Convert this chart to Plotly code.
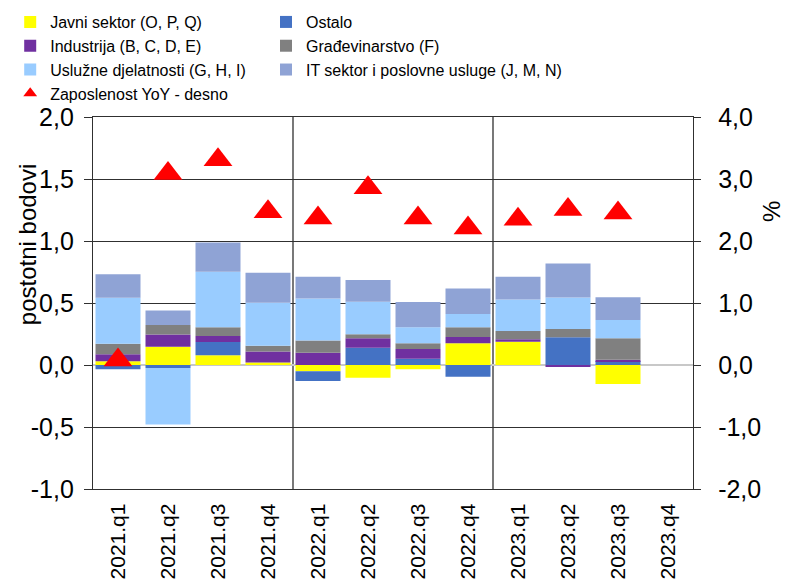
import plotly.graph_objects as go

quarters = ["2021.q1", "2021.q2", "2021.q3", "2021.q4",
            "2022.q1", "2022.q2", "2022.q3", "2022.q4",
            "2023.q1", "2023.q2", "2023.q3", "2023.q4"]

javni = [0.03, 0.148, 0.078, 0.02, -0.05, -0.102, -0.035, 0.175, 0.188, 0.0, -0.153, None]
ostalo = [-0.035, -0.025, 0.108, 0.0, -0.079, 0.14, 0.051, -0.094, 0.0, 0.223, 0.032, None]
industrija = [0.056, 0.097, 0.048, 0.089, 0.099, 0.075, 0.078, 0.051, 0.019, -0.015, 0.011, None]
gradjevinarstvo = [0.086, 0.078, 0.07, 0.046, 0.099, 0.032, 0.046, 0.078, 0.067, 0.067, 0.172, None]
usluzne = [0.37, -0.455, 0.449, 0.347, 0.339, 0.263, 0.129, 0.108, 0.255, 0.255, 0.148, None]
it_sektor = [0.19, 0.116, 0.234, 0.242, 0.175, 0.175, 0.204, 0.204, 0.183, 0.274, 0.183, None]
zaposlenost = [0.08, 3.09, 3.31, 2.47, 2.37, 2.86, 2.37, 2.21, 2.35, 2.51, 2.45, None]

left_tick_vals = [-1.0, -0.5, 0.0, 0.5, 1.0, 1.5, 2.0]
left_tick_text = ["-1,0", "-0,5", "0,0", "0,5", "1,0", "1,5", "2,0"]
right_tick_vals = [-2.0, -1.0, 0.0, 1.0, 2.0, 3.0, 4.0]
right_tick_text = ["-2,0", "-1,0", "0,0", "1,0", "2,0", "3,0", "4,0"]

# (name, values, colour, legend column)
series = [
    ("Javni sektor (O, P, Q)", javni, "#FFFF00", "legend"),
    ("Ostalo", ostalo, "#4472C4", "legend2"),
    ("Industrija (B, C, D, E)", industrija, "#7030A0", "legend"),
    ("Građevinarstvo (F)", gradjevinarstvo, "#808080", "legend2"),
    ("Uslužne djelatnosti (G, H, I)", usluzne, "#99CCFF", "legend"),
    ("IT sektor i poslovne usluge (J, M, N)", it_sektor, "#8FA3D5", "legend2"),
]

FONT = "Liberation Sans, Arial, sans-serif"

fig = go.Figure()
for name, vals, col, leg in series:
    fig.add_trace(go.Bar(x=quarters, y=vals, name=name, legend=leg,
                         marker=dict(color=col, line=dict(width=0))))

fig.add_trace(go.Scatter(x=quarters, y=zaposlenost, name="Zaposlenost YoY - desno",
                         mode="markers", yaxis="y2", legend="legend",
                         marker=dict(symbol="triangle-up", size=25, color="#FF0000")))

# year separators
shapes = []
for i in range(1, len(quarters)):
    if quarters[i][:4] != quarters[i - 1][:4]:
        shapes.append(dict(type="line", xref="x", yref="paper", x0=i - 0.5, x1=i - 0.5,
                           y0=0, y1=1, line=dict(color="#303030", width=1.3), layer="below"))

legend_common = dict(orientation="v", yanchor="top", y=1.301, xanchor="left",
                     traceorder="normal", bgcolor="rgba(0,0,0,0)", itemsizing="constant",
                     font=dict(family=FONT, size=16, color="#000000"))

fig.update_layout(
    width=787, height=585,
    margin=dict(l=93, r=94, t=117, b=96, autoexpand=False),
    paper_bgcolor="white", plot_bgcolor="white",
    barmode="relative", bargap=0.1,
    separators=",.",
    font=dict(family=FONT, color="#000000"),
    shapes=shapes,
    showlegend=True,
    legend=dict(x=-0.138, **legend_common),
    legend2=dict(x=0.2883, **legend_common),
    xaxis=dict(type="category", categoryorder="array", categoryarray=quarters,
               tickangle=-90, tickfont=dict(size=21, family=FONT),
               showgrid=False, showline=True, linecolor="#303030", linewidth=1.3,
               mirror=True, ticks="", ticklabelstandoff=5, range=[-0.5, len(quarters) - 0.5]),
    yaxis=dict(range=[-1, 2], tickmode="array", tickvals=left_tick_vals, ticktext=left_tick_text,
               tickfont=dict(size=25, family=FONT),
               showgrid=True, gridcolor="#303030", gridwidth=1.3,
               zeroline=True, zerolinecolor="#C8C8C8", zerolinewidth=1.5,
               showline=True, linecolor="#303030", linewidth=1.3,
               ticks="outside", ticklen=8, tickcolor="#303030", tickwidth=1.3,
               ticklabelstandoff=5),
    yaxis2=dict(range=[-2, 4], tickmode="array", tickvals=right_tick_vals, ticktext=right_tick_text,
                overlaying="y", side="right",
                tickfont=dict(size=25, family=FONT),
                showgrid=False, zeroline=False,
                showline=True, linecolor="#303030", linewidth=1.3,
                ticks="outside", ticklen=7, tickcolor="#303030", tickwidth=1.3,
                ticklabelstandoff=12),
    annotations=[
        dict(text="postotni bodovi", xref="paper", yref="paper", x=-0.108, y=0.656,
             xanchor="center", yanchor="middle", textangle=-90, showarrow=False,
             font=dict(size=24, family=FONT, color="#000000")),
        dict(text="%", xref="paper", yref="paper", x=1.132, y=0.745,
             xanchor="center", yanchor="middle", textangle=-90, showarrow=False,
             font=dict(size=24, family=FONT, color="#000000")),
    ],
)

fig.write_html("out.html", config={"displayModeBar": False},
               post_script="document.body.style.margin='0';")
